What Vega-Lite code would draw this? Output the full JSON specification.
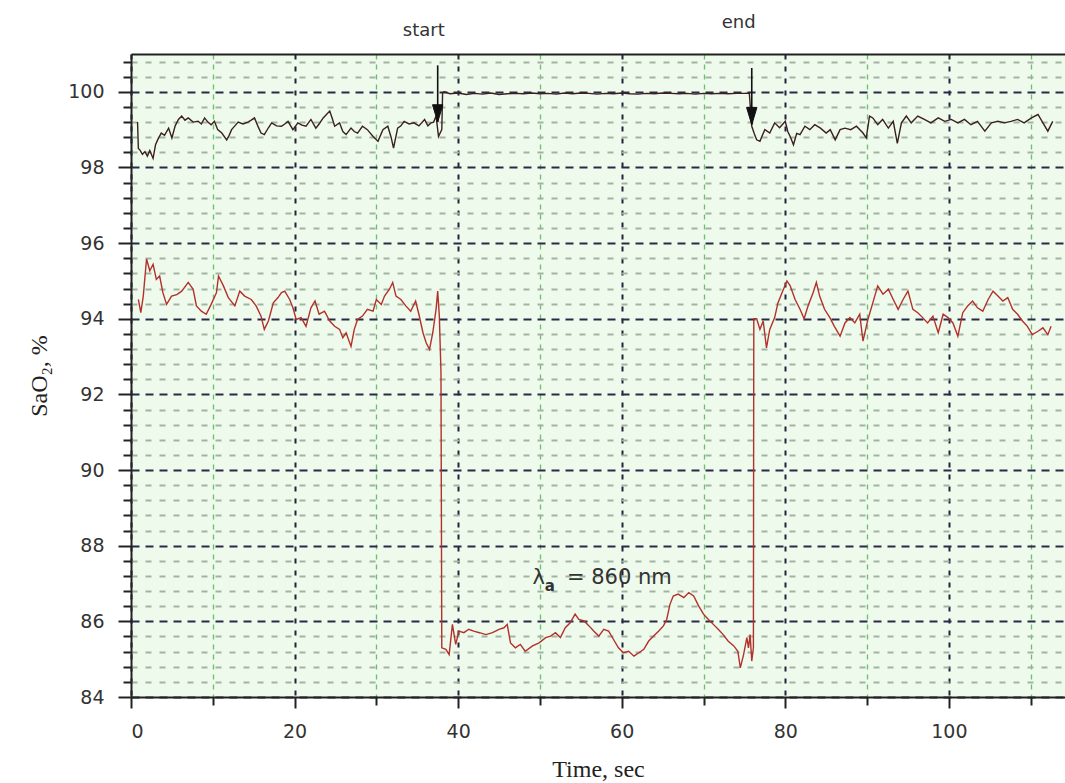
{
  "$schema": "https://vega.github.io/schema/vega-lite/v6.json",
  "width": 934,
  "height": 643,
  "autosize": {"type": "none"},
  "padding": {"left": 131, "top": 54, "right": 0, "bottom": 86},
  "background": "white",
  "config": {
    "view": {"fill": "#eefaec", "stroke": null},
    "axis": {
      "labelFont": "DejaVu Sans",
      "labelFontSize": 19,
      "labelColor": "#333333",
      "titleFont": "Liberation Serif",
      "titleFontSize": 24,
      "titleFontWeight": "normal",
      "titleColor": "#222222",
      "domainColor": "#222222",
      "domainWidth": 2,
      "tickColor": "#222222",
      "tickWidth": 2
    }
  },
  "datasets": {
    "upper": [
      {"t":0.8,"v":99.2},{"t":0.9,"v":98.5},{"t":1.1,"v":98.46},{"t":1.4,"v":98.35},{"t":1.7,"v":98.42},{"t":2.0,"v":98.3},{"t":2.3,"v":98.45},{"t":2.7,"v":98.24},{"t":3.0,"v":98.6},{"t":3.3,"v":98.75},{"t":3.7,"v":98.91},{"t":4.1,"v":98.85},{"t":4.6,"v":99.04},{"t":5.0,"v":98.78},{"t":5.4,"v":99.1},{"t":5.8,"v":99.27},{"t":6.2,"v":99.36},{"t":6.6,"v":99.25},{"t":7.0,"v":99.31},{"t":7.6,"v":99.2},{"t":8.2,"v":99.22},{"t":8.6,"v":99.15},{"t":9.0,"v":99.31},{"t":9.4,"v":99.2},{"t":9.8,"v":99.13},{"t":10.2,"v":99.22},{"t":10.6,"v":99.0},{"t":11.1,"v":98.91},{"t":11.7,"v":98.73},{"t":12.0,"v":98.85},{"t":12.3,"v":99.0},{"t":12.7,"v":99.1},{"t":13.1,"v":99.2},{"t":13.7,"v":99.15},{"t":14.3,"v":99.2},{"t":14.7,"v":99.25},{"t":15.1,"v":99.31},{"t":15.5,"v":99.1},{"t":15.9,"v":98.91},{"t":16.3,"v":98.87},{"t":16.8,"v":99.05},{"t":17.2,"v":99.18},{"t":17.8,"v":99.1},{"t":18.4,"v":99.09},{"t":18.8,"v":99.15},{"t":19.2,"v":99.22},{"t":19.8,"v":99.0},{"t":20.4,"v":99.18},{"t":20.9,"v":99.12},{"t":21.4,"v":99.09},{"t":22.0,"v":99.27},{"t":22.6,"v":99.04},{"t":23.0,"v":99.15},{"t":23.5,"v":99.31},{"t":24.3,"v":99.49},{"t":24.6,"v":99.3},{"t":24.9,"v":99.09},{"t":25.5,"v":99.18},{"t":25.9,"v":98.95},{"t":26.3,"v":98.87},{"t":26.9,"v":99.04},{"t":27.3,"v":98.95},{"t":27.7,"v":98.91},{"t":28.3,"v":99.09},{"t":28.9,"v":99.0},{"t":29.6,"v":98.82},{"t":30.2,"v":98.69},{"t":30.8,"v":99.0},{"t":31.4,"v":99.09},{"t":31.8,"v":98.8},{"t":32.1,"v":98.51},{"t":32.6,"v":99.04},{"t":33.0,"v":99.1},{"t":33.4,"v":99.22},{"t":34.0,"v":99.15},{"t":34.6,"v":99.18},{"t":35.2,"v":99.1},{"t":35.9,"v":99.27},{"t":36.3,"v":99.1},{"t":36.7,"v":99.18},{"t":37.0,"v":99.2},{"t":37.3,"v":99.36},{"t":37.6,"v":98.82},{"t":38.0,"v":99.0},{"t":38.1,"v":99.98},
      {"t":38.3,"v":100.0},{"t":39,"v":99.95},{"t":40,"v":99.97},{"t":41,"v":99.93},{"t":42,"v":99.96},{"t":43,"v":99.94},{"t":44,"v":99.97},{"t":45,"v":99.93},{"t":46,"v":99.95},{"t":47,"v":99.96},{"t":48,"v":99.95},{"t":49,"v":99.97},{"t":50,"v":99.95},{"t":51,"v":99.96},{"t":52,"v":99.94},{"t":53,"v":99.97},{"t":54,"v":99.95},{"t":55,"v":99.97},{"t":56,"v":99.96},{"t":57,"v":99.94},{"t":58,"v":99.96},{"t":59,"v":99.95},{"t":60,"v":99.97},{"t":61,"v":99.95},{"t":62,"v":99.94},{"t":63,"v":99.96},{"t":64,"v":99.95},{"t":65,"v":99.97},{"t":66,"v":99.96},{"t":67,"v":99.95},{"t":68,"v":99.96},{"t":69,"v":99.94},{"t":70,"v":99.96},{"t":71,"v":99.95},{"t":72,"v":99.96},{"t":73,"v":99.95},{"t":74,"v":99.96},{"t":75,"v":99.96},{"t":75.6,"v":99.97},
      {"t":75.9,"v":99.09},{"t":76.2,"v":98.9},{"t":76.5,"v":98.73},{"t":76.9,"v":98.69},{"t":77.2,"v":98.85},{"t":77.5,"v":99.0},{"t":78.1,"v":98.91},{"t":78.7,"v":99.18},{"t":79.3,"v":99.05},{"t":80.0,"v":99.22},{"t":80.3,"v":98.95},{"t":80.6,"v":98.82},{"t":81.0,"v":98.6},{"t":81.4,"v":98.9},{"t":81.8,"v":98.87},{"t":82.4,"v":99.09},{"t":83.0,"v":99.0},{"t":83.6,"v":99.13},{"t":84.3,"v":99.04},{"t":85.0,"v":98.91},{"t":85.5,"v":99.0},{"t":86.1,"v":98.73},{"t":86.7,"v":99.0},{"t":87.3,"v":99.04},{"t":88.0,"v":99.0},{"t":88.7,"v":99.09},{"t":89.5,"v":98.91},{"t":89.9,"v":98.78},{"t":90.3,"v":99.36},{"t":90.7,"v":99.31},{"t":91.3,"v":99.13},{"t":91.9,"v":99.27},{"t":92.6,"v":99.04},{"t":93.2,"v":99.22},{"t":93.7,"v":98.64},{"t":94.2,"v":99.18},{"t":94.8,"v":99.36},{"t":95.4,"v":99.18},{"t":96.2,"v":99.36},{"t":97.0,"v":99.27},{"t":97.8,"v":99.18},{"t":98.7,"v":99.31},{"t":99.5,"v":99.22},{"t":100.3,"v":99.27},{"t":101.1,"v":99.18},{"t":101.9,"v":99.27},{"t":102.7,"v":99.13},{"t":103.5,"v":99.22},{"t":104.4,"v":98.96},{"t":105.2,"v":99.18},{"t":106.0,"v":99.22},{"t":106.8,"v":99.18},{"t":107.6,"v":99.22},{"t":108.4,"v":99.27},{"t":109.2,"v":99.18},{"t":110.1,"v":99.31},{"t":110.9,"v":99.4},{"t":111.5,"v":99.18},{"t":112.1,"v":98.96},{"t":112.7,"v":99.22}
    ],
    "lower": [
      {"t":0.9,"v":94.51},{"t":1.2,"v":94.16},{"t":1.5,"v":94.6},{"t":1.9,"v":95.58},{"t":2.3,"v":95.27},{"t":2.7,"v":95.44},{"t":3.1,"v":95.04},{"t":3.5,"v":95.13},{"t":3.9,"v":94.69},{"t":4.35,"v":94.38},{"t":4.96,"v":94.6},{"t":5.6,"v":94.64},{"t":6.2,"v":94.73},{"t":7.0,"v":94.96},{"t":7.6,"v":94.78},{"t":8.0,"v":94.34},{"t":8.6,"v":94.2},{"t":9.2,"v":94.12},{"t":9.8,"v":94.38},{"t":10.45,"v":94.69},{"t":10.7,"v":95.13},{"t":11.3,"v":94.87},{"t":11.9,"v":94.56},{"t":12.7,"v":94.34},{"t":13.3,"v":94.73},{"t":13.9,"v":94.6},{"t":14.7,"v":94.51},{"t":15.3,"v":94.34},{"t":15.9,"v":94.07},{"t":16.3,"v":93.72},{"t":16.8,"v":93.94},{"t":17.4,"v":94.42},{"t":17.97,"v":94.56},{"t":18.4,"v":94.69},{"t":18.8,"v":94.73},{"t":19.4,"v":94.51},{"t":19.8,"v":94.29},{"t":20.2,"v":93.98},{"t":20.8,"v":94.03},{"t":21.4,"v":93.8},{"t":22.0,"v":94.29},{"t":22.5,"v":94.47},{"t":23.0,"v":94.12},{"t":23.66,"v":94.2},{"t":24.3,"v":93.94},{"t":24.9,"v":93.8},{"t":25.5,"v":93.72},{"t":25.9,"v":93.5},{"t":26.3,"v":93.63},{"t":26.9,"v":93.27},{"t":27.3,"v":93.72},{"t":27.7,"v":93.98},{"t":28.3,"v":94.07},{"t":28.9,"v":94.25},{"t":29.6,"v":94.2},{"t":30.0,"v":94.51},{"t":30.6,"v":94.38},{"t":31.0,"v":94.6},{"t":31.6,"v":94.78},{"t":32.0,"v":94.96},{"t":32.4,"v":94.6},{"t":33.0,"v":94.51},{"t":33.6,"v":94.34},{"t":34.2,"v":94.2},{"t":34.8,"v":94.47},{"t":35.2,"v":94.12},{"t":35.7,"v":93.63},{"t":36.1,"v":93.36},{"t":36.5,"v":93.19},{"t":36.9,"v":93.63},{"t":37.3,"v":94.25},{"t":37.5,"v":94.73},{"t":37.7,"v":94.07},{"t":37.9,"v":92.6},{"t":38.0,"v":85.3},{"t":38.5,"v":85.26},{"t":38.9,"v":85.12},{"t":39.3,"v":85.92},{"t":39.7,"v":85.39},{"t":40.1,"v":85.74},{"t":40.7,"v":85.7},{"t":41.3,"v":85.79},{"t":41.9,"v":85.74},{"t":42.6,"v":85.7},{"t":43.4,"v":85.65},{"t":44.2,"v":85.7},{"t":45.0,"v":85.79},{"t":45.6,"v":85.83},{"t":46.0,"v":85.92},{"t":46.4,"v":85.43},{"t":47.0,"v":85.3},{"t":47.6,"v":85.39},{"t":48.2,"v":85.21},{"t":49.1,"v":85.35},{"t":49.9,"v":85.43},{"t":50.7,"v":85.57},{"t":51.3,"v":85.61},{"t":51.9,"v":85.7},{"t":52.5,"v":85.57},{"t":53.1,"v":85.83},{"t":53.7,"v":85.96},{"t":54.3,"v":86.19},{"t":54.75,"v":86.05},{"t":55.4,"v":86.01},{"t":56.0,"v":85.88},{"t":56.6,"v":85.74},{"t":57.2,"v":85.61},{"t":57.8,"v":85.79},{"t":58.4,"v":85.74},{"t":59.0,"v":85.52},{"t":59.6,"v":85.3},{"t":60.2,"v":85.17},{"t":60.85,"v":85.21},{"t":61.5,"v":85.08},{"t":62.1,"v":85.17},{"t":62.7,"v":85.26},{"t":63.3,"v":85.48},{"t":63.9,"v":85.61},{"t":64.5,"v":85.74},{"t":65.1,"v":85.88},{"t":65.5,"v":86.05},{"t":65.9,"v":86.45},{"t":66.3,"v":86.67},{"t":66.9,"v":86.72},{"t":67.6,"v":86.63},{"t":68.2,"v":86.76},{"t":68.8,"v":86.67},{"t":69.4,"v":86.41},{"t":70.0,"v":86.19},{"t":70.6,"v":86.05},{"t":71.2,"v":85.92},{"t":71.8,"v":85.79},{"t":72.4,"v":85.65},{"t":73.0,"v":85.48},{"t":73.7,"v":85.35},{"t":74.2,"v":85.21},{"t":74.5,"v":84.77},{"t":74.9,"v":85.12},{"t":75.3,"v":85.57},{"t":75.5,"v":85.3},{"t":75.7,"v":85.65},{"t":75.9,"v":84.95},{"t":76.1,"v":85.3},{"t":76.15,"v":94.0},{"t":76.5,"v":94.0},{"t":76.9,"v":93.72},{"t":77.3,"v":93.94},{"t":77.7,"v":93.23},{"t":78.1,"v":93.72},{"t":78.7,"v":94.03},{"t":79.1,"v":94.42},{"t":79.6,"v":94.69},{"t":80.2,"v":95.0},{"t":80.6,"v":94.87},{"t":81.2,"v":94.51},{"t":81.8,"v":94.25},{"t":82.3,"v":94.0},{"t":82.8,"v":94.35},{"t":83.4,"v":94.69},{"t":83.8,"v":94.96},{"t":84.2,"v":94.6},{"t":84.8,"v":94.25},{"t":85.45,"v":94.03},{"t":86.0,"v":93.8},{"t":86.7,"v":93.54},{"t":87.3,"v":93.89},{"t":87.9,"v":94.03},{"t":88.5,"v":93.89},{"t":89.1,"v":94.12},{"t":89.5,"v":93.41},{"t":90.1,"v":93.98},{"t":90.7,"v":94.42},{"t":91.3,"v":94.87},{"t":91.95,"v":94.65},{"t":92.6,"v":94.78},{"t":93.2,"v":94.51},{"t":93.8,"v":94.25},{"t":94.4,"v":94.51},{"t":95.0,"v":94.73},{"t":95.6,"v":94.25},{"t":96.2,"v":94.16},{"t":96.8,"v":94.03},{"t":97.4,"v":93.89},{"t":98.05,"v":94.07},{"t":98.7,"v":93.63},{"t":99.3,"v":94.12},{"t":99.9,"v":94.03},{"t":100.5,"v":93.89},{"t":101.1,"v":93.54},{"t":101.7,"v":94.16},{"t":102.3,"v":94.34},{"t":102.9,"v":94.47},{"t":103.5,"v":94.29},{"t":104.15,"v":94.2},{"t":104.8,"v":94.51},{"t":105.4,"v":94.73},{"t":106.0,"v":94.6},{"t":106.6,"v":94.47},{"t":107.2,"v":94.56},{"t":107.8,"v":94.25},{"t":108.4,"v":94.12},{"t":109.0,"v":93.94},{"t":109.6,"v":93.8},{"t":110.2,"v":93.58},{"t":110.9,"v":93.67},{"t":111.5,"v":93.76},{"t":112.1,"v":93.58},{"t":112.5,"v":93.8}
    ],
    "arrows": [
      {"t": 37.5, "top": 100.7, "tip": 99.2},
      {"t": 75.9, "top": 100.63, "tip": 99.13}
    ],
    "marks": [
      {"t": 35.8, "v": 101.61, "label": "start"},
      {"t": 74.3, "v": 101.83, "label": "end"}
    ],
    "note": [
      {"t": 49.1, "v": 87.14, "label": "λ"},
      {"t": 53.3, "v": 87.14, "label": "= 860 nm"}
    ],
    "noteSub": [
      {"t": 50.6, "v": 86.93, "label": "a"}
    ]
  },
  "layer": [
    {
      "data": {"name": "lower"},
      "mark": {"type": "line", "color": "#b3312b", "strokeWidth": 1.4},
      "encoding": {
        "x": {"field": "t", "type": "quantitative", "scale": {"domain": [0, 114.2], "nice": false, "zero": false},
          "axis": {"orient": "bottom", "values": [10, 30, 50, 70, 90, 110], "labels": false, "title": null, "domain": false, "tickSize": 8,
            "grid": true, "gridColor": "#6cbf6c", "gridDash": [5, 5], "gridWidth": 1.3}},
        "y": {"field": "v", "type": "quantitative", "scale": {"domain": [84, 101], "nice": false, "zero": false},
          "axis": {"orient": "left", "values": [84.4,84.8,85.2,85.6,86.4,86.8,87.2,87.6,88.4,88.8,89.2,89.6,90.4,90.8,91.2,91.6,92.4,92.8,93.2,93.6,94.4,94.8,95.2,95.6,96.4,96.8,97.2,97.6,98.4,98.8,99.2,99.6,100.4,100.8],
            "labels": false, "title": null, "domain": false, "tickSize": 8,
            "grid": true, "gridColor": "#a3b3a3", "gridDash": [6, 8], "gridWidth": 1.8}}
      }
    },
    {
      "data": {"name": "upper"},
      "mark": {"type": "line", "color": "#3a2020", "strokeWidth": 1.4},
      "encoding": {
        "x": {"field": "t", "type": "quantitative", "scale": {"domain": [0, 114.2], "nice": false, "zero": false},
          "axis": {"orient": "bottom", "values": [0, 20, 40, 60, 80, 100], "title": "Time, sec", "tickSize": 11, "labelPadding": 14, "titlePadding": 16,
            "grid": true, "gridColor": "#22223a", "gridDash": [5, 7], "gridWidth": 2}},
        "y": {"field": "v", "type": "quantitative", "scale": {"domain": [84, 101], "nice": false, "zero": false},
          "axis": {"orient": "left", "values": [84, 86, 88, 90, 92, 94, 96, 98, 100], "title": "SaO₂, %", "tickSize": 13, "labelPadding": 14, "titlePadding": 16,
            "grid": true, "gridColor": "#2a2a48", "gridDash": [8, 6], "gridWidth": 2}}
      }
    },
    {
      "data": {"name": "arrows"},
      "mark": {"type": "rule", "color": "#111111", "strokeWidth": 1.6},
      "encoding": {
        "x": {"field": "t", "type": "quantitative", "scale": {"domain": [0, 114.2], "nice": false, "zero": false},
          "axis": {"orient": "top", "labels": false, "ticks": false, "grid": false, "title": null, "domain": true}},
        "y": {"field": "top", "type": "quantitative", "scale": {"domain": [84, 101], "nice": false, "zero": false}, "axis": null},
        "y2": {"field": "tip"}
      }
    },
    {
      "data": {"name": "arrows"},
      "mark": {"type": "point", "shape": "M-0.6,-2L0.6,-2L0,0Z", "size": 300, "filled": true, "fill": "#111111", "stroke": "#111111", "strokeWidth": 1, "opacity": 1},
      "encoding": {
        "x": {"field": "t", "type": "quantitative", "scale": {"domain": [0, 114.2], "nice": false, "zero": false}, "axis": null},
        "y": {"field": "tip", "type": "quantitative", "scale": {"domain": [84, 101], "nice": false, "zero": false}, "axis": null}
      }
    },
    {
      "data": {"name": "marks"},
      "mark": {"type": "text", "font": "DejaVu Sans", "fontSize": 18, "color": "#333333", "baseline": "middle", "align": "center", "clip": false},
      "encoding": {
        "x": {"field": "t", "type": "quantitative", "scale": {"domain": [0, 114.2], "nice": false, "zero": false}, "axis": null},
        "y": {"field": "v", "type": "quantitative", "scale": {"domain": [84, 101], "nice": false, "zero": false}, "axis": null},
        "text": {"field": "label"}
      }
    },
    {
      "data": {"name": "note"},
      "mark": {"type": "text", "font": "DejaVu Sans", "fontSize": 21, "color": "#333333", "baseline": "middle", "align": "left"},
      "encoding": {
        "x": {"field": "t", "type": "quantitative", "scale": {"domain": [0, 114.2], "nice": false, "zero": false}, "axis": null},
        "y": {"field": "v", "type": "quantitative", "scale": {"domain": [84, 101], "nice": false, "zero": false}, "axis": null},
        "text": {"field": "label"}
      }
    },
    {
      "data": {"name": "noteSub"},
      "mark": {"type": "text", "font": "DejaVu Sans", "fontSize": 15, "fontWeight": "bold", "color": "#333333", "baseline": "middle", "align": "left"},
      "encoding": {
        "x": {"field": "t", "type": "quantitative", "scale": {"domain": [0, 114.2], "nice": false, "zero": false}, "axis": null},
        "y": {"field": "v", "type": "quantitative", "scale": {"domain": [84, 101], "nice": false, "zero": false}, "axis": null},
        "text": {"field": "label"}
      }
    }
  ],
  "resolve": {"axis": {"x": "independent", "y": "independent"}}
}
